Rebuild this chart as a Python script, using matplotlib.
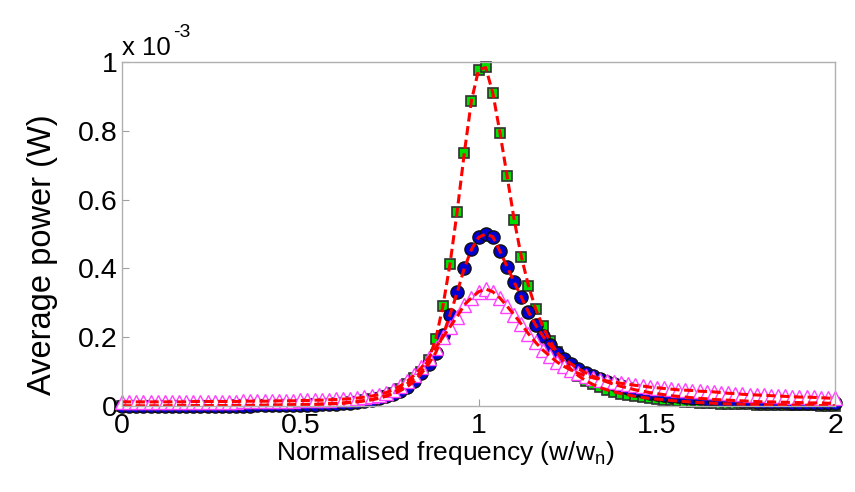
import numpy as np
import matplotlib
matplotlib.use('Agg')
import matplotlib.pyplot as plt

plt.rcParams['font.family'] = ['Liberation Sans', 'DejaVu Sans']
plt.rcParams['mathtext.default'] = 'regular'

# normalised frequency, one marker every 0.02
freq = np.round(np.arange(0, 2.0001, 0.02), 2)

# average power in units of 1e-3 W
power_green = [0.000, 0.000, 0.000, 0.000, 0.000, 0.000, 0.000, 0.001, 0.001, 0.001,
               0.001, 0.001, 0.001, 0.001, 0.001, 0.001, 0.002, 0.002, 0.002, 0.002,
               0.002, 0.003, 0.003, 0.003, 0.004, 0.004, 0.005, 0.005, 0.006, 0.007,
               0.008, 0.009, 0.011, 0.013, 0.016, 0.019, 0.024, 0.030, 0.038, 0.050,
               0.065, 0.082, 0.100, 0.135, 0.195, 0.290, 0.413, 0.565, 0.735, 0.887,
               0.977, 0.984, 0.910, 0.795, 0.669, 0.541, 0.434, 0.350, 0.283, 0.232,
               0.190, 0.156, 0.128, 0.106, 0.088, 0.074, 0.063, 0.054, 0.047, 0.041,
               0.036, 0.032, 0.028, 0.025, 0.022, 0.020, 0.018, 0.016, 0.014, 0.013,
               0.011, 0.010, 0.009, 0.008, 0.007, 0.006, 0.006, 0.005, 0.005, 0.004,
               0.004, 0.003, 0.003, 0.003, 0.002, 0.002, 0.002, 0.002, 0.001, 0.001,
               0.001]

power_blue = [0.000, 0.000, 0.000, 0.000, 0.000, 0.000, 0.000, 0.000, 0.000, 0.001,
              0.001, 0.001, 0.001, 0.001, 0.001, 0.001, 0.001, 0.001, 0.001, 0.002,
              0.002, 0.002, 0.002, 0.003, 0.003, 0.003, 0.004, 0.004, 0.005, 0.006,
              0.007, 0.008, 0.010, 0.012, 0.015, 0.018, 0.022, 0.028, 0.035, 0.044,
              0.056, 0.072, 0.095, 0.122, 0.155, 0.205, 0.265, 0.330, 0.400, 0.455,
              0.490, 0.500, 0.492, 0.450, 0.405, 0.360, 0.317, 0.273, 0.236, 0.204,
              0.177, 0.155, 0.137, 0.122, 0.108, 0.097, 0.087, 0.078, 0.070, 0.063,
              0.057, 0.052, 0.047, 0.043, 0.039, 0.036, 0.033, 0.030, 0.028, 0.026,
              0.024, 0.022, 0.021, 0.019, 0.018, 0.017, 0.016, 0.015, 0.014, 0.013,
              0.012, 0.012, 0.011, 0.011, 0.010, 0.010, 0.009, 0.009, 0.009, 0.008,
              0.008]

power_magenta = [0.012, 0.012, 0.012, 0.012, 0.012, 0.012, 0.012, 0.012, 0.012, 0.012,
                 0.013, 0.013, 0.013, 0.013, 0.013, 0.013, 0.013, 0.014, 0.014, 0.014,
                 0.014, 0.014, 0.015, 0.015, 0.015, 0.016, 0.016, 0.017, 0.017, 0.018,
                 0.019, 0.020, 0.021, 0.023, 0.026, 0.029, 0.033, 0.039, 0.047, 0.058,
                 0.072, 0.090, 0.112, 0.140, 0.170, 0.200, 0.230, 0.260, 0.294, 0.314,
                 0.332, 0.340, 0.332, 0.314, 0.290, 0.265, 0.238, 0.210, 0.185, 0.163,
                 0.145, 0.128, 0.115, 0.104, 0.095, 0.088, 0.082, 0.077, 0.073, 0.069,
                 0.066, 0.063, 0.060, 0.058, 0.055, 0.053, 0.051, 0.049, 0.047, 0.046,
                 0.045, 0.043, 0.042, 0.041, 0.039, 0.037, 0.036, 0.034, 0.033, 0.032,
                 0.031, 0.030, 0.029, 0.028, 0.027, 0.026, 0.026, 0.025, 0.024, 0.023,
                 0.022]

x_ticks = [0, 0.5, 1, 1.5, 2]
x_ticklabels = ['0', '0.5', '1', '1.5', '2']
y_ticks = [0, 0.2, 0.4, 0.6, 0.8, 1]
y_ticklabels = ['0', '0.2', '0.4', '0.6', '0.8', '1']

fig = plt.figure(figsize=(8.55, 4.92), dpi=100)
ax = fig.add_axes([0.1427, 0.1748, 0.834, 0.6992])

ax.plot(freq, power_green, 's', color='#00e000', markeredgecolor='#303030',
        markersize=7.5, markeredgewidth=1.2, clip_on=False)
ax.plot(freq, power_blue, 'o', color='#0000d0', markeredgecolor='#101010',
        markersize=9.5, markeredgewidth=1, clip_on=False)
ax.plot(freq, power_magenta, '^', color='#ff40ff', markerfacecolor='white',
        markersize=9.5, markeredgewidth=1, clip_on=False)

dash = (0, (3, 1.5))
for series in [power_green, power_blue, power_magenta]:
    ax.plot(freq, series, color='#ff0000', linestyle=dash, linewidth=2.2)

ax.set_xlim(0, 2)
ax.set_ylim(0, 1)
ax.set_xticks(x_ticks)
ax.set_xticklabels(x_ticklabels)
ax.set_yticks(y_ticks)
ax.set_yticklabels(y_ticklabels)
ax.tick_params(direction='in', length=5, color='#a0a0a0', labelsize=20.5)
ax.tick_params(axis='x', pad=5)
ax.tick_params(axis='y', pad=3)

for s in ax.spines.values():
    s.set_color('#b0b0b0')
    s.set_linewidth(1)

ax.set_xlabel('Normalised frequency (w/w$_n$)', fontsize=19)
ax.xaxis.set_label_coords(0.454, -0.097)
ax.set_ylabel('Average power (W)', fontsize=23.5)
ax.yaxis.set_label_coords(-0.09, 0.44)
ax.text(0.0, 1.005, 'x 10', transform=ax.transAxes, fontsize=18.5,
        ha='left', va='bottom')
ax.text(0.072, 1.06, '-3', transform=ax.transAxes, fontsize=14,
        ha='left', va='bottom')

fig.savefig('out.png', dpi=100)
